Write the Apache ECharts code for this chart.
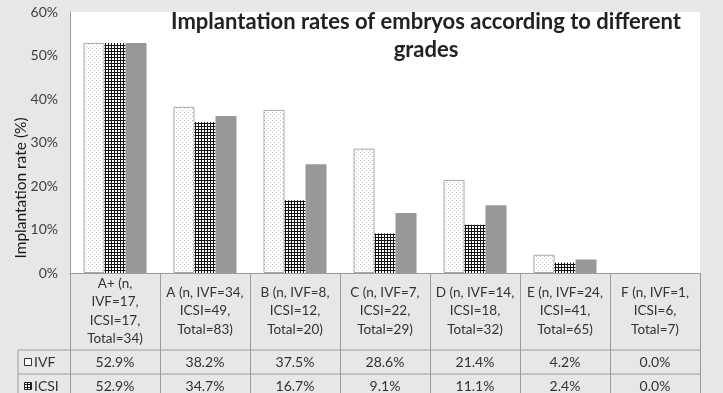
<!DOCTYPE html>
<html>
<head>
<meta charset="utf-8">
<script src="https://cdn.jsdelivr.net/npm/echarts@6/dist/echarts.min.js"></script>
<style>
html,body{margin:0;padding:0;background:#e7e7e7;}
#c{width:723px;height:393px;}
</style>
</head>
<body>
<div id="c"></div>
<script>
const categories = [
  'A+ (n,\nIVF=17,\nICSI=17,\nTotal=34)',
  'A (n, IVF=34,\nICSI=49,\nTotal=83)',
  'B (n, IVF=8,\nICSI=12,\nTotal=20)',
  'C (n, IVF=7,\nICSI=22,\nTotal=29)',
  'D (n, IVF=14,\nICSI=18,\nTotal=32)',
  'E (n, IVF=24,\nICSI=41,\nTotal=65)',
  'F (n, IVF=1,\nICSI=6,\nTotal=7)'
];
const ivf = [52.9, 38.2, 37.5, 28.6, 21.4, 4.2, 0.0];
const icsi = [52.9, 34.7, 16.7, 9.1, 11.1, 2.4, 0.0];
const total = [52.9, 36.1, 25.0, 13.8, 15.6, 3.1, 0.0];
const yTicks = [0, 10, 20, 30, 40, 50, 60];
const titleText = 'Implantation rates of embryos according to different\ngrades';
const yName = 'Implantation rate (%)';

const FONT = 'Lato, "Open Sans", sans-serif';
const LINE = '#9c9c9c';

function makeDots() {
  const c = document.createElement('canvas'); c.width = 4; c.height = 4;
  const g = c.getContext('2d');
  g.fillStyle = '#ffffff'; g.fillRect(0, 0, 4, 4);
  g.fillStyle = '#c4c4c4'; g.fillRect(0, 0, 1, 1); g.fillRect(2, 2, 1, 1);
  return c;
}
function makeGrid() {
  const c = document.createElement('canvas'); c.width = 3; c.height = 3;
  const g = c.getContext('2d');
  g.fillStyle = '#ffffff'; g.fillRect(0, 0, 3, 3);
  g.fillStyle = '#111111'; g.fillRect(0, 0, 3, 1); g.fillRect(0, 0, 1, 3);
  return c;
}
const dotPattern = {image: makeDots(), repeat: 'repeat'};
const gridPattern = {image: makeGrid(), repeat: 'repeat'};

const chart = echarts.init(document.getElementById('c'), null, {renderer: 'canvas'});
const G = {left: 70, right: 23, top: 12, bottom: 120};
const fmt = v => v.toFixed(1) + '%';

const option = {
  backgroundColor: '#e7e7e7',
  animation: false,
  grid: {left: G.left, right: G.right, top: G.top, bottom: G.bottom, show: true, backgroundColor: '#ffffff', borderWidth: 0},
  xAxis: [
    {
      type: 'category', data: categories, position: 'bottom',
      axisLine: {show: true, lineStyle: {color: LINE, width: 1}},
      axisTick: {show: true, interval: 0, length: 121, lineStyle: {color: LINE}},
      axisLabel: {interval: 0, margin: 38, verticalAlign: 'middle', fontFamily: FONT, fontSize: 13.5, lineHeight: 18.5, color: '#333'}
    },
    {
      type: 'category', data: ivf.map(fmt), position: 'bottom',
      axisLine: {show: false}, axisTick: {show: false},
      axisLabel: {interval: 0, margin: 89, verticalAlign: 'middle', fontFamily: FONT, fontSize: 14, color: '#333'}
    },
    {
      type: 'category', data: icsi.map(fmt), position: 'bottom',
      axisLine: {show: false}, axisTick: {show: false},
      axisLabel: {interval: 0, margin: 113, verticalAlign: 'middle', fontFamily: FONT, fontSize: 14, color: '#333'}
    }
  ],
  yAxis: {
    type: 'value', min: yTicks[0], max: yTicks[yTicks.length - 1], interval: 10,
    axisLine: {show: true, lineStyle: {color: LINE}},
    axisTick: {show: false},
    splitLine: {show: false},
    axisLabel: {formatter: '{value}%', margin: 12, fontFamily: FONT, fontSize: 14, color: '#404040'}
  },
  series: [
    {name: 'IVF', type: 'bar', barWidth: 21, barGap: '0%',
     data: ivf.map(v => v === 0 ? {value: v, itemStyle: {borderWidth: 0}} : v),
     itemStyle: {color: dotPattern, borderColor: '#a8a8a8', borderWidth: 1}, emphasis: {disabled: true}},
    {name: 'ICSI', type: 'bar', data: icsi, barWidth: 21, barGap: '0%',
     itemStyle: {color: gridPattern}, emphasis: {disabled: true}},
    {name: 'Total', type: 'bar', data: total, barWidth: 21, barGap: '0%',
     itemStyle: {color: '#989898'}, emphasis: {disabled: true}}
  ]
};
chart.setOption(option);

const y0 = chart.convertToPixel({yAxisIndex: 0}, 0);
const xL = G.left, xR = 723 - G.right, xH = 18;
const r1 = y0 + 77, r2 = y0 + 101;
chart.setOption({
  graphic: [
    {type: 'line', shape: {x1: xH, y1: r1, x2: xR, y2: r1}, style: {stroke: LINE, lineWidth: 1}, silent: true},
    {type: 'line', shape: {x1: xH, y1: r2, x2: xR, y2: r2}, style: {stroke: LINE, lineWidth: 1}, silent: true},
    {type: 'line', shape: {x1: xH, y1: r1, x2: xH, y2: 393}, style: {stroke: LINE, lineWidth: 1}, silent: true},
    {type: 'rect', shape: {x: 24.5, y: r1 + 8.5, width: 7, height: 7}, style: {fill: '#fff', stroke: '#333', lineWidth: 1}, silent: true},
    {type: 'text', style: {text: 'IVF', x: 34, y: (r1 + r2) / 2, textVerticalAlign: 'middle', font: '14px ' + FONT, fill: '#333'}, silent: true},
    {type: 'rect', shape: {x: 24.5, y: r2 + 8.5, width: 7, height: 7}, style: {fill: gridPattern, stroke: '#222', lineWidth: 1}, silent: true},
    {type: 'text', style: {text: 'ICSI', x: 34, y: r2 + 12, textVerticalAlign: 'middle', font: '14px ' + FONT, fill: '#333'}, silent: true},
    {type: 'text', rotation: Math.PI / 2, x: 21, y: 188,
     style: {text: yName, textAlign: 'center', textVerticalAlign: 'middle', font: '15.5px ' + FONT, fill: '#1a1a1a'}, silent: true},
    {type: 'text', style: {text: titleText, x: 426, y: 8, textAlign: 'center', font: 'bold 22px ' + FONT, lineHeight: 28, fill: '#222'}, silent: true}
  ]
});
</script>
</body>
</html>
